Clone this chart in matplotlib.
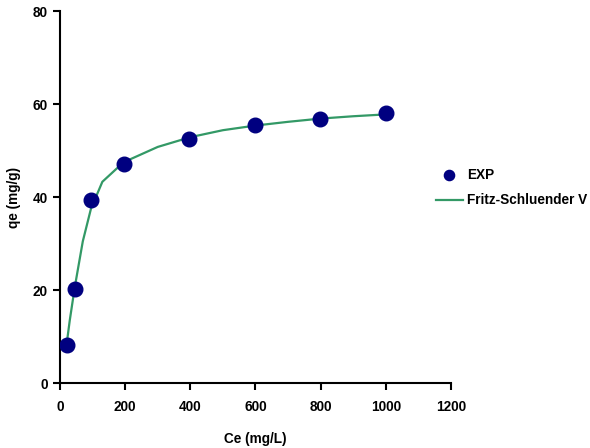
import matplotlib.pyplot as plt

plt.rcParams['font.family'] = ['Liberation Sans', 'DejaVu Sans']
plt.rcParams['font.weight'] = 'bold'
plt.rcParams['font.size'] = 9.8

# Experimental data
ce_exp = [20, 45, 95, 195, 395, 597, 797, 1000]
qe_exp = [8.2, 20.3, 39.3, 47.1, 52.5, 55.6, 56.8, 58.1]

# Fritz-Schluender V fitted curve
ce_fit = [20, 30, 45, 70, 95, 130, 195, 300, 400, 500, 600, 700, 800, 900, 1000]
qe_fit = [8.2, 13.5, 20.5, 30.5, 37.5, 43.3, 47.5, 50.8, 52.9, 54.4, 55.4, 56.2, 56.9, 57.4, 57.8]

fig = plt.figure(figsize=(5.9, 4.48), dpi=100)
ax = fig.add_axes([0.1017, 0.145, 0.6627, 0.83])

ax.plot(ce_exp, qe_exp, 'o', color='#000080', markersize=10.5, label='EXP', zorder=3)
ax.plot(ce_fit, qe_fit, '-', color='#339966', linewidth=1.6, label='Fritz-Schluender V', zorder=2)

ax.set_xlim(0, 1200)
ax.set_ylim(0, 80)
ax.set_xticks(range(0, 1201, 200))
ax.set_yticks(range(0, 81, 20))
ax.set_xlabel('Ce (mg/L)', fontweight='bold', labelpad=13)
ax.set_ylabel('qe (mg/g)', fontweight='bold', labelpad=8)

for s in ['top', 'right']:
    ax.spines[s].set_visible(False)
for s in ['left', 'bottom']:
    ax.spines[s].set_linewidth(1.5)
ax.tick_params(direction='out', length=5, width=1.5)
ax.tick_params(axis='x', pad=7)
ax.tick_params(axis='y', pad=4)

ax.legend(loc='center left', bbox_to_anchor=(0.93, 0.525), frameon=False,
          markerscale=0.7, handlelength=2.0, handletextpad=0.3, labelspacing=0.8,
          prop={'weight': 'bold', 'size': 9.8})

fig.savefig('out.png', dpi=100)
